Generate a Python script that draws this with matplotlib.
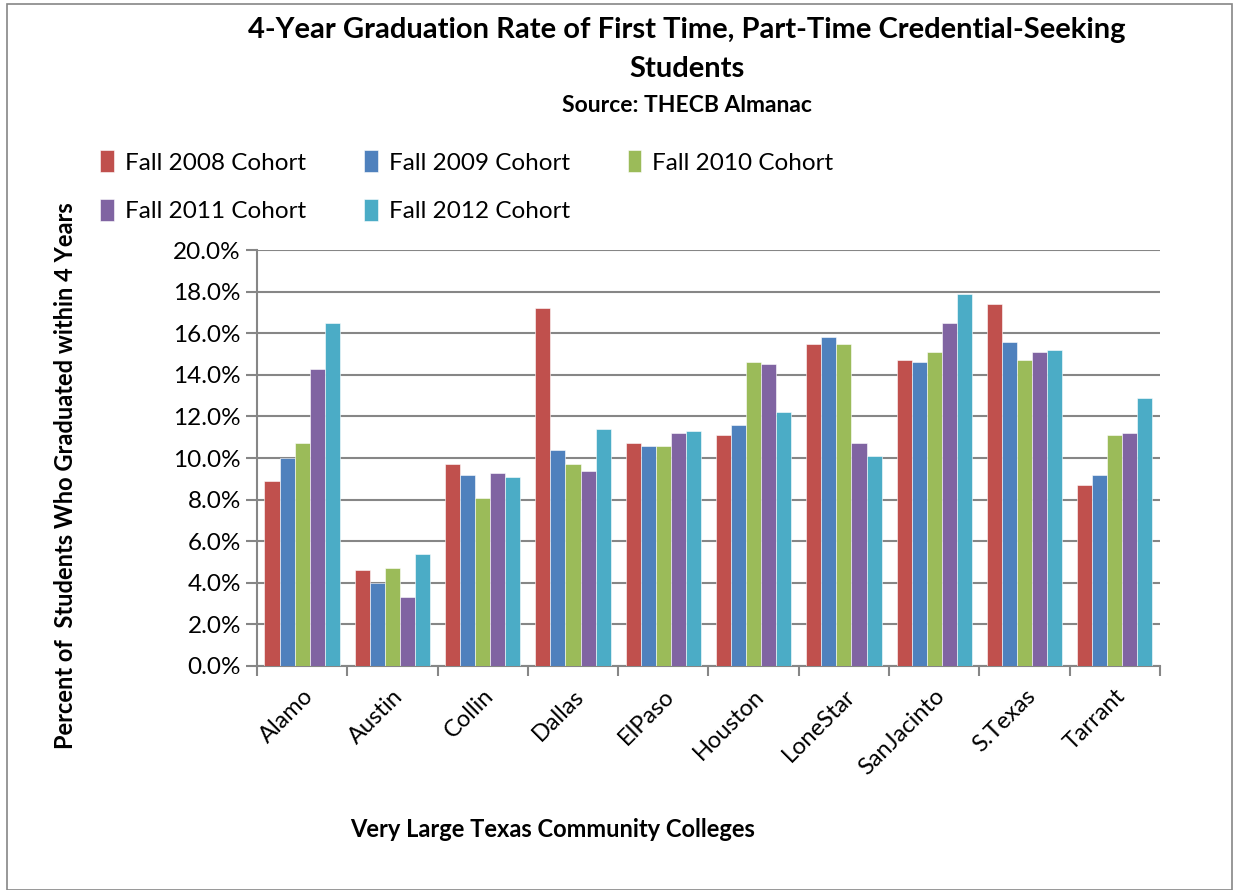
import numpy as np
import matplotlib.pyplot as plt
from matplotlib.patches import Rectangle
from matplotlib.ticker import FuncFormatter, FixedLocator

plt.rcParams['font.family'] = ['Lato', 'DejaVu Sans']

# DATOS
colegios = ['Alamo', 'Austin', 'Collin', 'Dallas', 'ElPaso', 'Houston',
            'LoneStar', 'SanJacinto', 'S.Texas', 'Tarrant']
cohortes = ['Fall 2008 Cohort', 'Fall 2009 Cohort', 'Fall 2010 Cohort',
            'Fall 2011 Cohort', 'Fall 2012 Cohort']
fall2008 = [8.9, 4.6, 9.7, 17.2, 10.7, 11.1, 15.5, 14.7, 17.4, 8.7]
fall2009 = [10.0, 4.0, 9.2, 10.4, 10.6, 11.6, 15.8, 14.6, 15.6, 9.2]
fall2010 = [10.7, 4.7, 8.1, 9.7, 10.6, 14.6, 15.5, 15.1, 14.7, 11.1]
fall2011 = [14.3, 3.3, 9.3, 9.4, 11.2, 14.5, 10.7, 16.5, 15.1, 11.2]
fall2012 = [16.5, 5.4, 9.1, 11.4, 11.3, 12.2, 10.1, 17.9, 15.2, 12.9]
series = [fall2008, fall2009, fall2010, fall2011, fall2012]
colores = ['#C0504D', '#4F81BD', '#9BBB59', '#8064A2', '#4BACC6']

fig = plt.figure(figsize=(12.33, 8.9), dpi=100)
ax = fig.add_axes([0.2084, 0.2517, 0.7324, 0.4673])

x = np.arange(len(colegios))
ancho = 1 / 6
barras = []
for i, (vals, c) in enumerate(zip(series, colores)):
    b = ax.bar(x + (i - 2) * ancho, vals, ancho, color=c,
               edgecolor='white', linewidth=0.4, zorder=3)
    barras.append(b)

ax.set_xlim(-0.5, len(colegios) - 0.5)
ax.set_ylim(0, 20)
ax.set_yticks(np.arange(0, 20.1, 2))
ax.yaxis.set_major_formatter(FuncFormatter(lambda v, p: f'{v:.1f}%'))
ax.tick_params(axis='y', labelsize=17.5, length=8, color='#868686', width=1.5)
ax.grid(axis='y', color='#868686', linewidth=1.5, zorder=0)

ax.set_xticks(x)
ax.set_xticklabels(colegios, rotation=45, ha='right', rotation_mode='anchor',
                   fontsize=17)
ax.tick_params(axis='x', length=0, pad=14)
ax.xaxis.set_minor_locator(FixedLocator(np.arange(-0.5, len(colegios), 1)))
ax.tick_params(axis='x', which='minor', length=7, color='#868686', width=1.5)

for s in ['top', 'right']:
    ax.spines[s].set_visible(False)
for s in ['left', 'bottom']:
    ax.spines[s].set_color('#868686')
    ax.spines[s].set_linewidth(1.5)

# TEXTOS
fig.text(0.557, 0.966, '4-Year Graduation Rate of First Time, Part-Time Credential-Seeking',
         ha='center', va='center', fontsize=21, fontweight='bold')
fig.text(0.557, 0.922, 'Students', ha='center', va='center', fontsize=21,
         fontweight='bold')
fig.text(0.557, 0.882, 'Source: THECB Almanac', ha='center', va='center',
         fontsize=16.5, fontweight='bold')
fig.text(0.053, 0.466, 'Percent of  Students Who Graduated within 4 Years',
         rotation=90, ha='center', va='center', fontsize=17, fontweight='bold')
fig.text(0.448, 0.068, 'Very Large Texas Community Colleges', ha='center',
         va='center', fontsize=17, fontweight='bold')

# LEYENDA (orden por filas)
orden = [0, 3, 1, 4, 2]
fig.legend([barras[k] for k in orden], [cohortes[k] for k in orden],
           ncol=3, loc='upper left', bbox_to_anchor=(0.0815, 0.831),
           frameon=False, fontsize=17.5, handlelength=0.55, handleheight=1.0,
           handletextpad=0.45, columnspacing=2.4, labelspacing=1.05,
           borderaxespad=0, borderpad=0)

# borde del grafico
fig.patches.append(Rectangle((0.006, 0.0), 0.993, 0.996, transform=fig.transFigure,
                             fill=False, edgecolor='#868686', linewidth=1.2))

plt.savefig('out.png', dpi=100)
